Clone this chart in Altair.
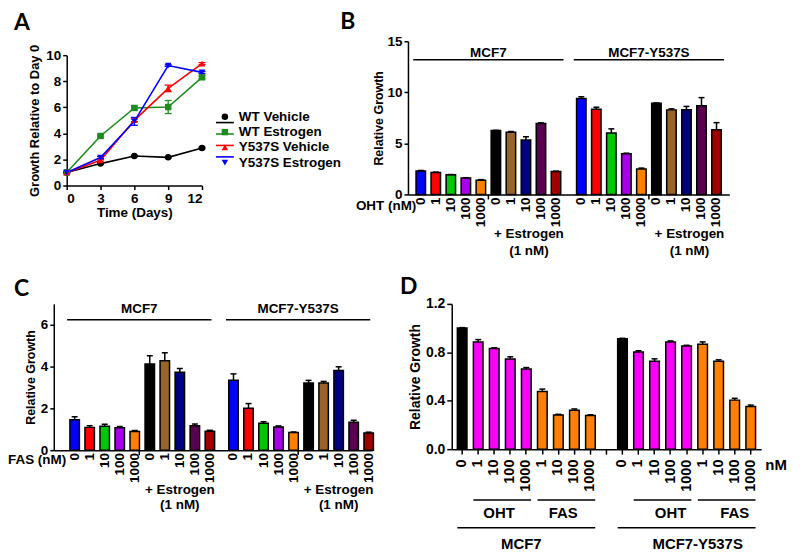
import altair as alt
import pandas as pd

FONT = "Liberation Sans"
LFONT = "Lato"

# ---------------- Panel A data ----------------
a_days = [0, 3, 6, 9, 12]
a_series = ["WT Vehicle", "WT Estrogen", "Y537S Vehicle", "Y537S Estrogen"]
a_colors = ["#000000", "#1E8C1E", "#FF0000", "#0000FF"]
a_wt_vehicle = [1.0, 1.68, 2.26, 2.16, 2.88]
a_wt_vehicle_err = [0.04, 0.05, 0.05, 0.05, 0.06]
a_wt_estrogen = [1.0, 3.8, 5.95, 6.02, 8.3]
a_wt_estrogen_err = [0.04, 0.08, 0.15, 0.5, 0.12]
a_y_vehicle = [1.0, 1.93, 5.0, 7.45, 9.35]
a_y_vehicle_err = [0.04, 0.06, 0.1, 0.25, 0.08]
a_y_estrogen = [1.0, 2.15, 4.92, 9.2, 8.68]
a_y_estrogen_err = [0.04, 0.08, 0.3, 0.06, 0.08]

# ---------------- Panel B / C data ----------------
groups = ["MCF7", "MCF7-Y537S"]
cond_ids = ["V0", "V1", "V10", "V100", "V1000", "E0", "E1", "E10", "E100", "E1000"]
cond_doses = ["0", "1", "10", "100", "1000", "0", "1", "10", "100", "1000"]
cond_colors = ["#0000FF", "#FF0000", "#00C800", "#A800E8", "#FF8000",
               "#000000", "#9A6428", "#00007F", "#5A0050", "#A00000"]

b_mcf7 = [2.3, 2.15, 1.92, 1.6, 1.4, 6.25, 6.1, 5.33, 6.95, 2.24]
b_mcf7_err = [0.05, 0.04, 0.03, 0.04, 0.05, 0.03, 0.06, 0.32, 0.06, 0.04]
b_y537s = [9.4, 8.34, 6.02, 3.98, 2.5, 8.92, 8.28, 8.3, 8.68, 6.33]
b_y537s_err = [0.16, 0.2, 0.4, 0.06, 0.08, 0.04, 0.1, 0.32, 0.8, 0.7]

c_mcf7 = [1.46, 1.09, 1.14, 1.07, 0.89, 4.12, 4.28, 3.73, 1.17, 0.91]
c_mcf7_err = [0.14, 0.08, 0.1, 0.06, 0.05, 0.4, 0.38, 0.18, 0.08, 0.04]
c_y537s = [3.35, 2.01, 1.29, 1.11, 0.84, 3.21, 3.21, 3.81, 1.33, 0.82]
c_y537s_err = [0.3, 0.22, 0.07, 0.05, 0.03, 0.13, 0.08, 0.18, 0.1, 0.04]

# ---------------- Panel D data ----------------
d_treat = ["Control", "OHT", "OHT", "OHT", "OHT", "FAS", "FAS", "FAS", "FAS"]
d_doses = ["0", "1", "10", "100", "1000", "1", "10", "100", "1000"]
d_treat_colors = ["#000000", "#FF00FF", "#FF8000"]
d_mcf7 = [1.0, 0.885, 0.832, 0.745, 0.662, 0.476, 0.283, 0.322, 0.279]
d_mcf7_err = [0.004, 0.02, 0.005, 0.018, 0.012, 0.02, 0.005, 0.01, 0.005]
d_y537s = [0.912, 0.803, 0.726, 0.886, 0.853, 0.866, 0.726, 0.405, 0.352]
d_y537s_err = [0.004, 0.01, 0.02, 0.008, 0.005, 0.02, 0.012, 0.015, 0.012]


def letter_layer(letter, lx, ly, size=23):
    return alt.Chart(pd.DataFrame({"t": [letter]})).mark_text(
        font=LFONT, fontSize=size, fontWeight="bold", align="left", baseline="alphabetic", color="black"
    ).encode(x=alt.value(lx), y=alt.value(ly), text="t:N")


# ================= Panel A =================
rows = []
for s, vals, errs in zip(a_series,
                         [a_wt_vehicle, a_wt_estrogen, a_y_vehicle, a_y_estrogen],
                         [a_wt_vehicle_err, a_wt_estrogen_err, a_y_vehicle_err, a_y_estrogen_err]):
    for d, v, e in zip(a_days, vals, errs):
        rows.append({"series": s, "day": d, "value": v, "err": e})
df_a = pd.DataFrame(rows)

xa = alt.X("day:Q", scale=alt.Scale(domain=[0, 12], range=[13, 149], nice=False, zero=False),
           axis=alt.Axis(values=a_days, offset=-9, title="Time (Days)", labelFontSize=13.5,
                         titleFontSize=13.5, titlePadding=1))
ya_axis = alt.Axis(values=[0, 2, 4, 6, 8, 10], offset=-13, title="Growth Relative to Day 0",
                   labelFontSize=13.5, titleFontSize=13, titlePadding=4)


def ya(f, show_axis=False):
    return alt.Y(f, scale=alt.Scale(domain=[0, 10], range=[145, 14], nice=False),
                 axis=ya_axis if show_axis else None)


col_a = alt.Color("series:N", scale=alt.Scale(domain=a_series, range=a_colors), legend=None)
shape_a = alt.Shape("series:N", scale=alt.Scale(domain=a_series,
                                                range=["circle", "square", "triangle-up", "triangle-down"]),
                    legend=None)

base_a = alt.Chart(df_a)
lines_a = base_a.mark_line(strokeWidth=1.6).encode(x=xa, y=ya("value:Q", True), color=col_a)
err_a = base_a.transform_calculate(lo="datum.value - datum.err", hi="datum.value + datum.err").mark_rule(
    strokeWidth=1.3).encode(x=xa, y=ya("lo:Q"), y2="hi:Q", color=col_a)
caphi_a = base_a.transform_calculate(hi="datum.value + datum.err").mark_tick(
    orient="horizontal", size=7, thickness=1.3, opacity=1).encode(x=xa, y=ya("hi:Q"), color=col_a)
caplo_a = base_a.transform_calculate(lo="datum.value - datum.err").mark_tick(
    orient="horizontal", size=7, thickness=1.3, opacity=1).encode(x=xa, y=ya("lo:Q"), color=col_a)
pts_a = base_a.mark_point(filled=True, size=42, opacity=1).encode(
    x=xa, y=ya("value:Q"), color=col_a, shape=shape_a)

# legend built from marks (line + marker + label per series)
leg_df = pd.DataFrame({"series": a_series})
y_leg = alt.Y("series:N", scale=alt.Scale(domain=a_series, range=[76, 122], padding=0), axis=None)
leg_line = alt.Chart(leg_df).mark_rule(strokeWidth=1.6).encode(
    x=alt.value(163), x2=alt.value(181), y=y_leg, color=col_a)
leg_pt = alt.Chart(leg_df).mark_point(filled=True, size=42, opacity=1).encode(
    x=alt.value(172), y=y_leg, color=col_a, shape=shape_a)
leg_txt = alt.Chart(leg_df).mark_text(font=FONT, fontSize=13.5, fontWeight="bold", align="left",
                                      baseline="middle", color="black").encode(
    x=alt.value(186), y=y_leg, text="series:N")

panel_a = alt.layer(lines_a, err_a, caphi_a, caplo_a, pts_a, leg_line, leg_pt, leg_txt,
                    letter_layer("A", -40, -11)).resolve_scale(y="independent").properties(
    width=276, height=154)


# ================= Panels B / C =================
def bar_panel(vals, errs, letter, drug_label, ymax, yticks, w, h, gpi, gpo, galign, opi,
              lab_y, grp_text_y, grp_line_y, estr_y, estr_lh, drug_y, drug_dx, letter_x, letter_y,
              title_pad, estr_dx):
    rws = []
    for g in groups:
        for cid, dose, v, e in zip(cond_ids, cond_doses, vals[g], errs[g]):
            rws.append(dict(grp=g, cond=cid, dose=dose, value=v, err=e))
    df = pd.DataFrame(rws)
    x_axis = alt.Axis(labels=False, ticks=False, title=None, domain=True)
    X = alt.X("grp:N", scale=alt.Scale(domain=groups, paddingInner=gpi, paddingOuter=gpo, align=galign),
              axis=x_axis)
    XO = alt.XOffset("cond:N", scale=alt.Scale(domain=cond_ids, paddingInner=opi, paddingOuter=opi / 2))
    y_axis = alt.Axis(values=yticks, title="Relative Growth", labelFontSize=13.5, titleFontSize=12.5,
                      titlePadding=title_pad)

    def Y(f):
        return alt.Y(f, scale=alt.Scale(domain=[0, ymax], nice=False), axis=y_axis)

    base = alt.Chart(df)
    bars = base.mark_bar(stroke="black", strokeWidth=1.5).encode(
        x=X, xOffset=XO, y=Y("value:Q"),
        color=alt.Color("cond:N", scale=alt.Scale(domain=cond_ids, range=cond_colors), legend=None))
    errb = base.transform_calculate(hi="datum.value + datum.err").mark_rule(
        color="black", strokeWidth=1.5).encode(x=X, xOffset=XO, y=Y("value:Q"), y2="hi:Q")
    caps = base.transform_calculate(hi="datum.value + datum.err").mark_tick(
        color="black", orient="horizontal", size=6, thickness=1.5, opacity=1).encode(
        x=X, xOffset=XO, y=Y("hi:Q"))
    labels = base.mark_text(angle=270, align="right", baseline="middle", font=FONT, fontWeight="bold",
                            fontSize=13.5, color="black").encode(
        x=X, xOffset=XO, y=alt.value(lab_y), text="dose:N")
    gdf = pd.DataFrame({"grp": groups})
    glines = alt.Chart(gdf).mark_bar(color="black").encode(
        x=X, y=alt.value(grp_line_y - 0.75), y2=alt.value(grp_line_y + 0.75))
    seps = alt.Chart(gdf).mark_rule(color="black", strokeWidth=1.5).encode(
        x=X, y=alt.value(h), y2=alt.value(h + 5))
    gtext = alt.Chart(gdf).mark_text(font=FONT, fontWeight="bold", fontSize=13.5, baseline="middle",
                                     color="black").encode(x=X, y=alt.value(grp_text_y), text="grp:N")
    edf = pd.DataFrame({"grp": groups, "cond": ["E10", "E10"], "txt": ["+ Estrogen\n(1 nM)"] * 2})
    etext = alt.Chart(edf).mark_text(font=FONT, fontWeight="bold", fontSize=13.5, baseline="top",
                                     lineBreak="\n", lineHeight=estr_lh, dx=estr_dx, color="black").encode(
        x=X, xOffset=XO, y=alt.value(estr_y), text="txt:N")
    ddf = pd.DataFrame({"grp": [groups[0]], "cond": ["V0"], "txt": [drug_label]})
    dtext = alt.Chart(ddf).mark_text(font=FONT, fontWeight="bold", fontSize=13.5, align="right",
                                     baseline="middle", dx=drug_dx, color="black").encode(
        x=X, xOffset=XO, y=alt.value(drug_y), text="txt:N")
    return alt.layer(bars, errb, caps, labels, glines, seps, gtext, etext, dtext,
                     letter_layer(letter, letter_x, letter_y)).properties(width=w, height=h)


panel_b = bar_panel({"MCF7": b_mcf7, "MCF7-Y537S": b_y537s}, {"MCF7": b_mcf7_err, "MCF7-Y537S": b_y537s_err},
                    "B", "OHT (nM)", 15, [0, 5, 10, 15], 323, 154, 0.064, 0.033, 0.5, 0.37,
                    lab_y=157, grp_text_y=12, grp_line_y=18.7, estr_y=187, estr_lh=16.7,
                    drug_y=166, drug_dx=-4.5, letter_x=-68, letter_y=-12, title_pad=2, estr_dx=3)

panel_c = bar_panel({"MCF7": c_mcf7, "MCF7-Y537S": c_y537s}, {"MCF7": c_mcf7_err, "MCF7-Y537S": c_y537s_err},
                    "C", "FAS (nM)", 7, [0, 2, 4, 6], 320, 147, 0.0915, 0.048, 0.877, 0.4,
                    lab_y=150, grp_text_y=5, grp_line_y=16, estr_y=180, estr_lh=15,
                    drug_y=157, drug_dx=-8.5, letter_x=-40, letter_y=-8, title_pad=3, estr_dx=0)

# ================= Panel D =================
rows = []
keys_m, keys_y = [], []
for cell, vals, errs, keys in [("MCF7", d_mcf7, d_mcf7_err, keys_m), ("MCF7-Y537S", d_y537s, d_y537s_err, keys_y)]:
    for t, dose, v, e in zip(d_treat, d_doses, vals, errs):
        k = f"{cell}|{t}|{dose}"
        keys.append(k)
        rows.append(dict(key=k, treat=t, value=v, err=e))
df_d = pd.DataFrame(rows)
d_domain = keys_m + ["gap||"] + keys_y

d_x_axis = alt.Axis(labelExpr="split(datum.value, '|')[2]", labelAngle=270, labelAlign="right",
                    labelBaseline="middle", tickSize=5, labelPadding=5, title=None, labelFontSize=14.5,
                    labelOverlap=False, labelBound=False)
d_xscale = alt.Scale(domain=d_domain, paddingInner=0.4, paddingOuter=0.35)
DX = alt.X("key:N", scale=d_xscale, axis=d_x_axis)
d_y_axis = alt.Axis(values=[0, 0.4, 0.8, 1.2], format=".1f", title="Relative Growth", labelFontSize=14,
                    titleFontSize=14, titlePadding=3, tickSize=5)


def DY(f):
    return alt.Y(f, scale=alt.Scale(domain=[0, 1.2], nice=False), axis=d_y_axis)


base_d = alt.Chart(df_d)
bars_d = base_d.mark_bar(stroke="black", strokeWidth=1.5).encode(
    x=DX, y=DY("value:Q"),
    color=alt.Color("treat:N", scale=alt.Scale(domain=["Control", "OHT", "FAS"], range=d_treat_colors),
                    legend=None))
err_d = base_d.transform_calculate(hi="datum.value + datum.err").mark_rule(
    color="black", strokeWidth=1.5).encode(x=DX, y=DY("value:Q"), y2="hi:Q")
cap_d = base_d.transform_calculate(hi="datum.value + datum.err").mark_tick(
    color="black", orient="horizontal", size=6, thickness=1.5, opacity=1).encode(x=DX, y=DY("hi:Q"))

small_spans = pd.DataFrame({
    "k1": ["MCF7|OHT|1", "MCF7|FAS|1", "MCF7-Y537S|OHT|1", "MCF7-Y537S|FAS|1"],
    "k2": ["MCF7|OHT|1000", "MCF7|FAS|1000", "MCF7-Y537S|OHT|1000", "MCF7-Y537S|FAS|1000"],
})
big_spans = pd.DataFrame({
    "k1": ["MCF7|Control|0", "MCF7-Y537S|Control|0"],
    "k2": ["MCF7|FAS|1000", "MCF7-Y537S|FAS|1000"],
})
sp1 = alt.Chart(small_spans).mark_rule(color="black", strokeWidth=1.5).encode(
    x=alt.X("k1:N", scale=d_xscale, axis=d_x_axis, bandPosition=0), x2=alt.X2("k2", bandPosition=1),
    y=alt.value(197))
sp2 = alt.Chart(big_spans).mark_rule(color="black", strokeWidth=1.5).encode(
    x=alt.X("k1:N", scale=d_xscale, axis=d_x_axis, bandPosition=0), x2=alt.X2("k2", bandPosition=1),
    y=alt.value(225))
lab1 = alt.Chart(pd.DataFrame({"k": ["MCF7|OHT|10", "MCF7|FAS|10"], "t": ["OHT", "FAS"]})).mark_text(
    font=FONT, fontWeight="bold", fontSize=15, baseline="middle", color="black").encode(
    x=alt.X("k:N", scale=d_xscale, axis=d_x_axis, bandPosition=1), y=alt.value(210), text="t:N")
lab2 = alt.Chart(pd.DataFrame({"k": ["MCF7-Y537S|OHT|100", "MCF7-Y537S|FAS|100"], "t": ["OHT", "FAS"]})).mark_text(
    font=FONT, fontWeight="bold", fontSize=15, baseline="middle", color="black").encode(
    x=alt.X("k:N", scale=d_xscale, axis=d_x_axis, bandPosition=0.5), y=alt.value(210), text="t:N")
lab3 = alt.Chart(pd.DataFrame({"k": ["MCF7|OHT|1000", "MCF7-Y537S|FAS|1"], "t": ["MCF7", "MCF7-Y537S"]})).mark_text(
    font=FONT, fontWeight="bold", fontSize=15, baseline="middle", dx=-5, color="black").encode(
    x=alt.X("k:N", scale=d_xscale, axis=d_x_axis, bandPosition=0.5), y=alt.value(241), text="t:N")
nm = alt.Chart(pd.DataFrame({"t": ["nM"]})).mark_text(
    font=FONT, fontWeight="bold", fontSize=15, baseline="middle", color="black").encode(
    x=alt.value(326), y=alt.value(162), text="t:N")

panel_d = alt.layer(bars_d, err_d, cap_d, sp1, sp2, lab1, lab2, lab3, nm,
                    letter_layer("D", -52, -10)).properties(width=311, height=146)

row1 = alt.hconcat(panel_a, panel_b, spacing=80, bounds="flush").resolve_scale(
    color="independent", shape="independent")
row2 = alt.hconcat(panel_c, panel_d, spacing=80, bounds="flush").resolve_scale(
    color="independent", shape="independent")

chart = alt.vconcat(row1, row2, spacing=18).resolve_scale(
    color="independent", shape="independent").properties(
    padding={"left": 0, "top": 2, "right": 5, "bottom": 5}
).configure_view(stroke=None).configure_axis(
    labelFont=FONT, labelFontWeight="bold", labelColor="black", titleFont=FONT, titleFontWeight="bold",
    titleColor="black", domainColor="black", domainWidth=1.5, tickColor="black", tickWidth=1.5,
    tickSize=4, grid=False, labelPadding=2)

chart.save("out.html", embed_options={"renderer": "svg", "actions": False})
